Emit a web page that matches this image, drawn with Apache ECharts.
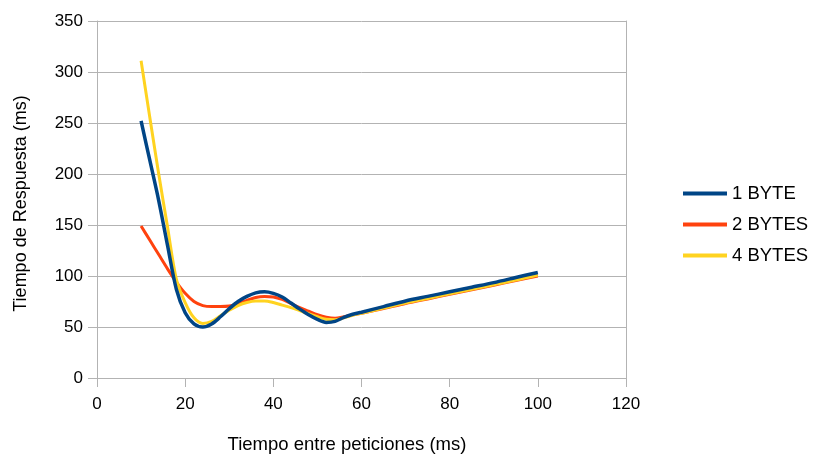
<!DOCTYPE html>
<html><head><meta charset="utf-8">
<script src="https://cdn.jsdelivr.net/npm/echarts@6/dist/echarts.min.js"></script>
<style>html,body{margin:0;padding:0;background:#fff}#c{width:816px;height:459px}</style>
</head><body><div id="c"></div>
<script>
var xs = [10,12,14,16,18,20,22,24,26,28,30,32,34,36,38,40,42,44,46,48,50,52,54,56,58,60,65,70,75,80,85,90,95,100];
var oneByte = [252,213,174,130,87,64,53,50,53,60,68,75,80,83.5,84.5,83,79.5,73.5,67.5,62,57.5,54.5,55.5,59.5,62.5,64.5,70,75.5,80,84.5,89,93.5,98.5,103.5];
var twoBytes = [149,135,121,107,94,83,75,71,70,70,70.5,73,76,79,80,79.5,77,73,69,65.5,62,59.5,58.5,60,62,63.5,68,73,77.5,82,86.5,91,95.5,100];
var fourBytes = [311,255,200,148,97,74,59,53.5,55.5,61,66.5,71,74,75.5,75.5,74,71.5,69,66,63,60,57.5,57,59,61.5,63.5,68.5,73.5,78,82.5,87,91.5,96,101];
var seriesNames = ['1 BYTE','2 BYTES','4 BYTES'];
var xTitle = 'Tiempo entre peticiones (ms)';
var yTitle = 'Tiempo de Respuesta (ms)';

function pairs(v){ return xs.map(function(x,i){ return [x, v[i]]; }); }
var font = '"Liberation Sans", Arial, sans-serif';
var chart = echarts.init(document.getElementById('c'));
chart.setOption({
  animation: false,
  backgroundColor: '#fff',
  grid: { left: 97, right: 190, top: 21, bottom: 79 },
  legend: {
    orient: 'vertical', left: 683, top: 184, padding: 0,
    icon: 'rect', itemWidth: 44, itemHeight: 4, itemGap: 12,
    textStyle: { fontFamily: font, fontSize: 18.5, color: '#000', lineHeight: 19 },
    data: seriesNames
  },
  xAxis: {
    type: 'value', min: 0, max: 120, interval: 20,
    name: xTitle, nameLocation: 'middle', nameGap: 57,
    nameTextStyle: { fontFamily: font, fontSize: 18.5, color: '#000', padding: [0, 29, 0, 0] },
    axisLine: { show: true, lineStyle: { color: '#b3b3b3', width: 1 } },
    axisTick: { show: true, length: 9, lineStyle: { color: '#b3b3b3' } },
    axisLabel: { fontFamily: font, fontSize: 17, color: '#000', margin: 18 },
    splitLine: { show: false }
  },
  yAxis: [{
    type: 'value', min: 0, max: 350, interval: 50,
    name: yTitle, nameLocation: 'middle', nameGap: 67,
    nameTextStyle: { fontFamily: font, fontSize: 18, color: '#000', padding: [0, 8, 0, 0] },
    axisLine: { show: true, lineStyle: { color: '#b3b3b3', width: 1 } },
    axisTick: { show: true, length: 9, lineStyle: { color: '#b3b3b3' } },
    axisLabel: { fontFamily: font, fontSize: 17, color: '#000', margin: 14 },
    splitLine: { show: true, lineStyle: { color: '#b3b3b3', width: 1 } }
  }, {
    type: 'value', min: 0, max: 350, interval: 50, position: 'right',
    axisLine: { show: true, lineStyle: { color: '#b3b3b3', width: 1 } },
    axisTick: { show: false }, axisLabel: { show: false }, splitLine: { show: false }
  }],
  series: [
    { name: seriesNames[0], type: 'line', data: pairs(oneByte), smooth: 0.3, showSymbol: false, z: 5,
      itemStyle: { color: '#004586' }, lineStyle: { color: '#004586', width: 3.5 } },
    { name: seriesNames[1], type: 'line', data: pairs(twoBytes), smooth: 0.3, showSymbol: false, z: 3,
      itemStyle: { color: '#ff420e' }, lineStyle: { color: '#ff420e', width: 3 } },
    { name: seriesNames[2], type: 'line', data: pairs(fourBytes), smooth: 0.3, showSymbol: false, z: 4,
      itemStyle: { color: '#ffd320' }, lineStyle: { color: '#ffd320', width: 3 } }
  ]
});
</script></body></html>
